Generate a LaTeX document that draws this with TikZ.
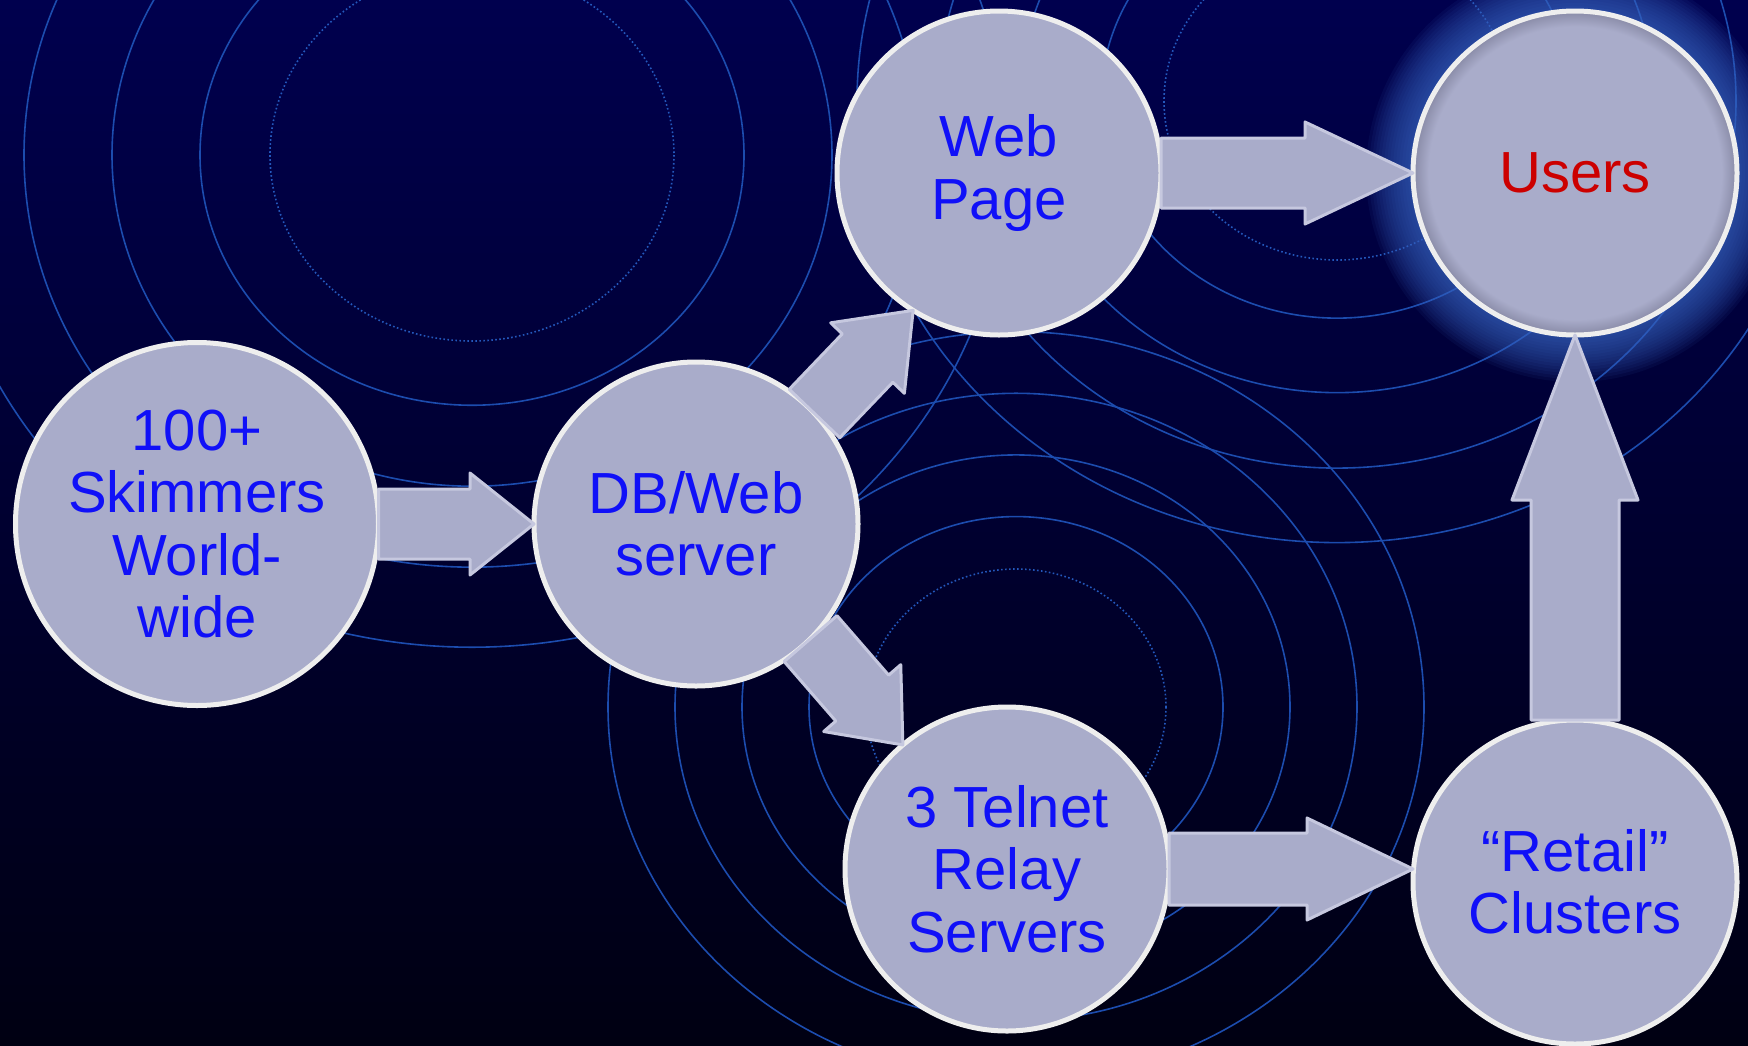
\documentclass[tikz,border=0pt]{standalone}
\usepackage{fontspec}
\setmainfont{Liberation Sans}
\usetikzlibrary{calc}

\definecolor{bgtop}{HTML}{00004E}
\definecolor{bgmid}{HTML}{000060}
\definecolor{bgbot}{HTML}{000012}
\definecolor{ringblue}{HTML}{1C4CAE}
\definecolor{ringdot}{HTML}{2458BC}
\definecolor{nodefill}{HTML}{A9ACCA}
\definecolor{nodeedge}{HTML}{EEEEEE}
\definecolor{nodeshadow}{HTML}{888AA6}
\definecolor{arrowedge}{HTML}{C6C8DF}
\definecolor{labelblue}{HTML}{1010F8}
\definecolor{labelred}{HTML}{CC0000}
\definecolor{glowblue}{HTML}{3A66C4}

% fill with a darker rim just inside the border
\pgfdeclareradialshading{rimshade}{\pgfpoint{0bp}{0bp}}{color(0bp)=(nodefill); color(22.6bp)=(nodefill); color(25bp)=(nodeshadow); color(50bp)=(nodeshadow)}

% block arrow: start, tip, shaft half width, head half width, head length
\newcommand\blockarrow[5]{%
  \coordinate (ba-h) at ($(#2)!#5!(#1)$);
  \filldraw[arrowbody] ($(#1)!#3!90:(#2)$) -- ($(ba-h)!#3!-90:(#1)$) -- ($(ba-h)!#4!-90:(#1)$)
    -- (#2) -- ($(ba-h)!#4!90:(#1)$) -- ($(ba-h)!#3!90:(#1)$) -- ($(#1)!#3!-90:(#2)$) -- cycle;
}

\begin{document}
\begin{tikzpicture}[x=1pt,y=-1pt,
  ringline/.style={draw=ringblue, line width=1.6pt},
  dotline/.style={draw=ringdot, line width=1.6pt, dash pattern=on 1.6pt off 2.4pt},
  bubble/.style={circle, inner sep=0pt, outer sep=0pt, minimum size=324pt,
    draw=nodeedge, line width=5pt, fill=nodefill, text=labelblue, align=center,
    font=\fontsize{58}{62.5}\selectfont},
  arrowbody/.style={fill=nodefill, draw=arrowedge, line width=3pt, line join=round}
]
\useasboundingbox (0,0) rectangle (1748,1045);

% backdrop
\shade[top color=bgtop, middle color=bgmid, bottom color=bgbot] (0,0) rectangle (1748,1045);

% three families of concentric rings
\coordinate (ringA) at (472,155);
\coordinate (ringB) at (1337,101);
\coordinate (ringC) at (1016,707);
\begin{scope}
  \clip (0,0) rectangle (1748,1045);
  \draw[dotline] (ringA) ellipse [x radius=202, y radius=186];
  \draw[dotline] (ringB) ellipse [x radius=173, y radius=159];
  \draw[dotline] (ringC) ellipse [x radius=150, y radius=138];
  \foreach \r in {272,360,448,535} {
    \pgfmathsetmacro\ry{0.92*\r}
    \draw[ringline] (ringA) ellipse [x radius=\r, y radius=\ry];
  }
  \foreach \r in {236,317,399,480} {
    \pgfmathsetmacro\ry{0.92*\r}
    \draw[ringline] (ringB) ellipse [x radius=\r, y radius=\ry];
  }
  \foreach \r in {207,274,341,408} {
    \pgfmathsetmacro\ry{0.92*\r}
    \draw[ringline] (ringC) ellipse [x radius=\r, y radius=\ry];
  }
\end{scope}

% halo around the users bubble
\coordinate (usersc) at (1575,173);
\foreach \k in {1,...,15}
  \fill[glowblue, fill opacity=0.08] (usersc) circle ({164+3*\k});

% bubbles
\node[bubble, minimum size=363pt] (sk) at (197,524) {100+\\Skimmers\\World-\\wide};
\node[bubble] (db) at (696,524) {DB/Web\\server};
\node[bubble] (web) at (999,173) {Web\\Page};
\node[bubble, shade, shading=rimshade, text=labelred] (users) at (usersc) {Users};
\node[bubble] (tel) at (1007,869) {3 Telnet\\Relay\\Servers};
\node[bubble] (ret) at (1575,882) {“Retail”\\Clusters};

% the relay arrow stays level with the relay servers
\coordinate (retin) at (ret.west |- tel.east);

% flow arrows
\blockarrow{sk.east}{db.west}{35pt}{51pt}{64pt}
\blockarrow{db.43}{web.-122}{35pt}{51pt}{66pt}
\blockarrow{db.-45}{tel.130}{35pt}{51pt}{62pt}
\blockarrow{web.east}{users.west}{35pt}{51pt}{108pt}
\blockarrow{tel.east}{retin}{36pt}{51pt}{106pt}
\blockarrow{ret.north}{users.south}{44pt}{63pt}{165pt}
\end{tikzpicture}
\end{document}
